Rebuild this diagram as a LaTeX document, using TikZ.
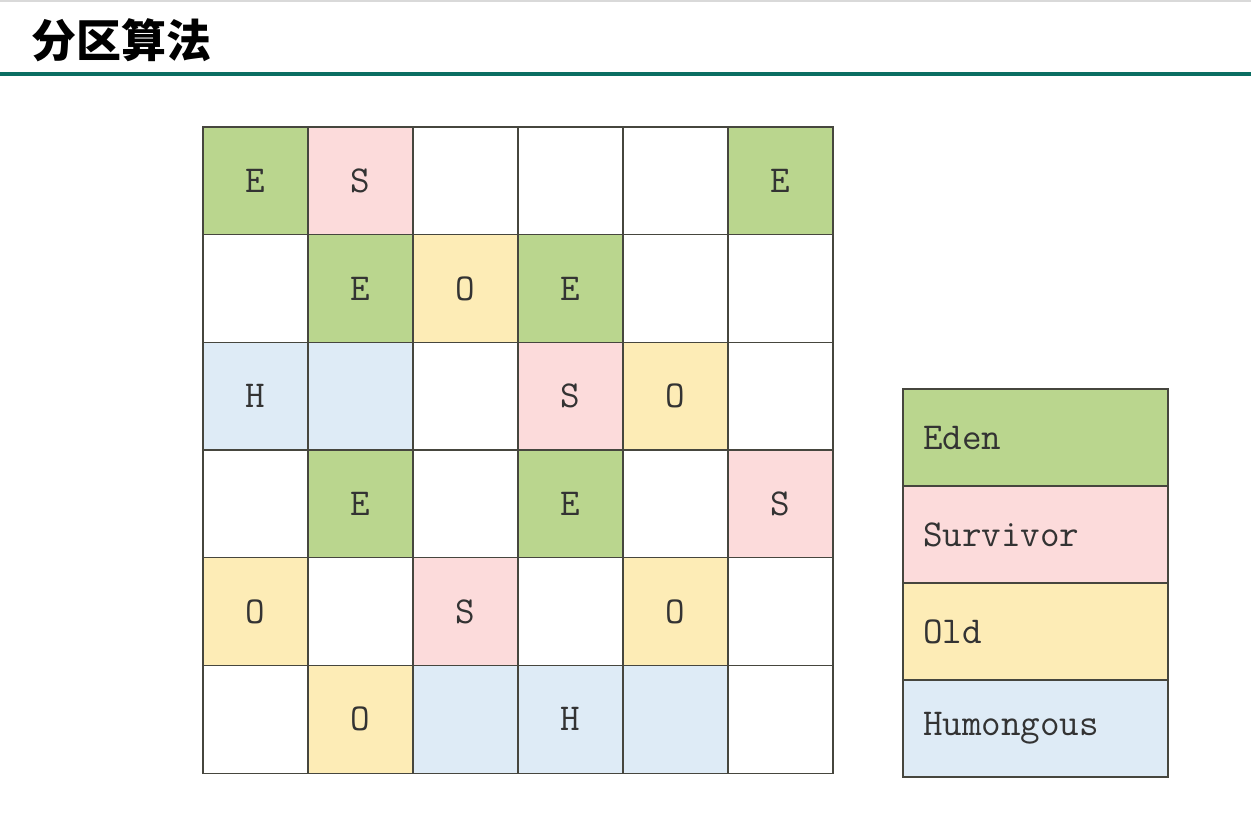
\documentclass[tikz,border=0pt]{standalone}
\usepackage{fontspec}
\usepackage{tikz}
\newfontfamily\cjk{Noto Sans CJK SC}
\definecolor{eden}{RGB}{186,214,142}
\definecolor{surv}{RGB}{252,219,219}
\definecolor{old}{RGB}{253,236,182}
\definecolor{hum}{RGB}{222,235,246}
\definecolor{bar}{RGB}{10,110,98}
\definecolor{rim}{RGB}{70,70,62}
\tikzset{
	cell/.style={draw=rim, line width=1.2pt, minimum width=105pt, minimum height=107.7pt, inner sep=0pt, font=\fontsize{38}{38}\ttfamily, text=black!80},
	key/.style={draw=rim, line width=1.2pt, minimum height=97pt, text width=225pt, inner xsep=20pt, align=left, font=\fontsize{38}{38}\ttfamily, text=black!80}
}

\begin{document}
\begin{tikzpicture}[x=1pt,y=-1pt]

	\useasboundingbox (0,0) rectangle (1251,817);
	\draw [black!15, line width=1.5pt] (0,1) -- (1251,1);
	\node (title)[anchor=west] at (28,40){\cjk\bfseries\fontsize{45}{45}\selectfont 分区算法};
	\draw [bar, line width=4.5pt] (0,74) -- (1251,74);

	% row 1
	\node (c11)[cell, fill=eden] at (255.5,180.8){E};
	\node (c12)[cell, fill=surv] at (360.5,180.8){S};
	\node (c13)[cell] at (465.5,180.8){};
	\node (c14)[cell] at (570.5,180.8){};
	\node (c15)[cell] at (675.5,180.8){};
	\node (c16)[cell, fill=eden] at (780.5,180.8){E};
	% row 2
	\node (c21)[cell] at (255.5,288.5){};
	\node (c22)[cell, fill=eden] at (360.5,288.5){E};
	\node (c23)[cell, fill=old] at (465.5,288.5){O};
	\node (c24)[cell, fill=eden] at (570.5,288.5){E};
	\node (c25)[cell] at (675.5,288.5){};
	\node (c26)[cell] at (780.5,288.5){};
	% row 3
	\node (c31)[cell, fill=hum] at (255.5,396.2){H};
	\node (c32)[cell, fill=hum] at (360.5,396.2){};
	\node (c33)[cell] at (465.5,396.2){};
	\node (c34)[cell, fill=surv] at (570.5,396.2){S};
	\node (c35)[cell, fill=old] at (675.5,396.2){O};
	\node (c36)[cell] at (780.5,396.2){};
	% row 4
	\node (c41)[cell] at (255.5,503.9){};
	\node (c42)[cell, fill=eden] at (360.5,503.9){E};
	\node (c43)[cell] at (465.5,503.9){};
	\node (c44)[cell, fill=eden] at (570.5,503.9){E};
	\node (c45)[cell] at (675.5,503.9){};
	\node (c46)[cell, fill=surv] at (780.5,503.9){S};
	% row 5
	\node (c51)[cell, fill=old] at (255.5,611.6){O};
	\node (c52)[cell] at (360.5,611.6){};
	\node (c53)[cell, fill=surv] at (465.5,611.6){S};
	\node (c54)[cell] at (570.5,611.6){};
	\node (c55)[cell, fill=old] at (675.5,611.6){O};
	\node (c56)[cell] at (780.5,611.6){};
	% row 6
	\node (c61)[cell] at (255.5,719.3){};
	\node (c62)[cell, fill=old] at (360.5,719.3){O};
	\node (c63)[cell, fill=hum] at (465.5,719.3){};
	\node (c64)[cell, fill=hum] at (570.5,719.3){H};
	\node (c65)[cell, fill=hum] at (675.5,719.3){};
	\node (c66)[cell] at (780.5,719.3){};

	% legend
	\node (Leden)[key, fill=eden] at (1035.5,437.5){Eden};
	\node (Lsurv)[key, fill=surv] at (1035.5,534.5){Survivor};
	\node (Lold)[key, fill=old] at (1035.5,631.5){Old};
	\node (Lhum)[key, fill=hum] at (1035.5,728.5){Humongous};

\end{tikzpicture}
\end{document}
